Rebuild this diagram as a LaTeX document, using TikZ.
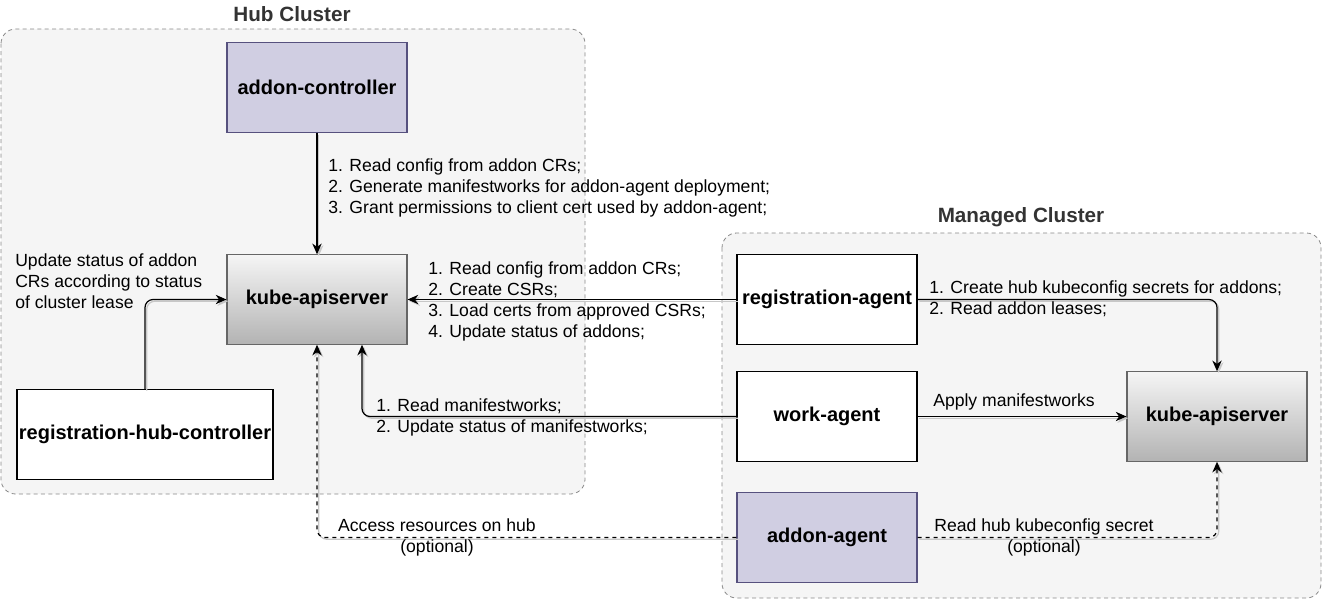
\documentclass[tikz,border=0pt]{standalone}
\usepackage{fontspec}
\setmainfont{Liberation Sans}
\usetikzlibrary{calc}
\usetikzlibrary{positioning}
\usetikzlibrary{arrows.meta}
\definecolor{clusterFill}{HTML}{F5F5F5}
\definecolor{clusterLine}{HTML}{888888}
\definecolor{titleGray}{HTML}{333333}
\definecolor{addonFill}{HTML}{D0CEE2}
\definecolor{addonLine}{HTML}{56517E}
\definecolor{apiTop}{HTML}{F5F5F5}
\definecolor{apiBot}{HTML}{B3B3B3}
\definecolor{apiLine}{HTML}{666666}
\tikzstyle{cluster} = [draw=clusterLine, fill=clusterFill, dash pattern=on 3pt off 2.5pt, rounded corners=11pt, line width=0.6pt]
\tikzstyle{title} = [font=\fontsize{15.5}{18}\selectfont\bfseries, text=titleGray]
\tikzstyle{compnode} = [draw, minimum width=135pt, minimum height=67pt, inner sep=1pt, font=\fontsize{15}{18}\selectfont\bfseries, line width=0.9pt]
\tikzstyle{colorA} = [fill=addonFill, draw=addonLine]
\tikzstyle{colorB} = [top color=apiTop, bottom color=apiBot, draw=apiLine]
\tikzstyle{plain} = [fill=white, draw=black]
\tikzstyle{lbl} = [inner sep=0pt, font=\fontsize{13.2}{15.75}\selectfont]
\tikzstyle{link} = [-{Stealth[length=8pt,width=7pt,inset=2.5pt]}, line width=0.9pt, preaction={draw=black!22, line width=0.9pt, transform canvas={shift={(1.3pt,-1.3pt)}}}]

\begin{document}
\begin{tikzpicture}[x=0.75pt, y=-0.75pt]
    \useasboundingbox (0,0) rectangle (1323,600);

    % clusters
    \draw[cluster] (1,29) rectangle (585,494);
    \draw[cluster] (722,233) rectangle (1321,598);
    \node[title] (hub_title) at (292,14) {Hub Cluster};
    \node[title] (man_title) at (1021,217) {Managed Cluster};

    % hub side
    \node[compnode, colorA] (addon_ctrl) at (317,87.5) {addon-controller};
    \node[compnode, colorB] (hub_api) at ($(addon_ctrl)+(0,212)$) {kube-apiserver};
    \node[compnode, plain, minimum width=192pt, minimum height=67.5pt] (reg_hub) at ($(hub_api)+(-172,135)$) {registration-hub-controller};

    % managed side
    \node[compnode, plain] (reg_agent) at ($(hub_api)+(510,0)$) {registration-agent};
    \node[compnode, plain] (work_agent) at ($(reg_agent)+(0,117)$) {work-agent};
    \node[compnode, colorA] (addon_agent) at ($(work_agent)+(0,121)$) {addon-agent};
    \node[compnode, colorB] (man_api) at ($(work_agent)+(390,0)$) {kube-apiserver};

    \draw[link] (addon_ctrl) -- (hub_api);
    \draw[link] (reg_agent) -- (hub_api);
    \draw[link, rounded corners=6pt] (work_agent.west) -| ($(hub_api.south)+(45,0)$);
    \draw[link, rounded corners=6pt] (reg_hub.north) |- (hub_api.west);
    \draw[link, dashed, rounded corners=6pt] (addon_agent.west) -| (hub_api.south);
    \draw[link, rounded corners=6pt] (reg_agent.east) -| (man_api.north);
    \draw[link] (work_agent) -- (man_api);
    \draw[link, dashed, rounded corners=6pt] (addon_agent.east) -| (man_api.south);

    % labels
    \node[lbl, align=left, anchor=west] (lbl_ctrl) at (328,187.5) {1. Read config from addon CRs;\\2. Generate manifestworks for addon-agent deployment;\\3. Grant permissions to client cert used by addon-agent;};
    \node[lbl, align=left, anchor=west] (lbl_reg) at (428,301.5) {1. Read config from addon CRs;\\2. Create CSRs;\\3. Load certs from approved CSRs;\\4. Update status of addons;};
    \node[lbl, align=left, anchor=west] (lbl_work) at (376,417.5) {1. Read manifestworks;\\2. Update status of manifestworks;};
    \node[lbl, align=left, anchor=west] (lbl_hub) at (15,281) {Update status of addon\\CRs according to status\\of cluster lease};
    \node[lbl, align=center] (lbl_access) at (437,537.5) {Access resources on hub\\(optional)};
    \node[lbl, align=left, anchor=west] (lbl_secret) at (929,298.5) {1. Create hub kubeconfig secrets for addons;\\2. Read addon leases;};
    \node[lbl, anchor=west] (lbl_apply) at (933,402) {Apply manifestworks};
    \node[lbl, align=center] (lbl_read) at (1044,537.5) {Read hub kubeconfig secret\\(optional)};
\end{tikzpicture}
\end{document}
